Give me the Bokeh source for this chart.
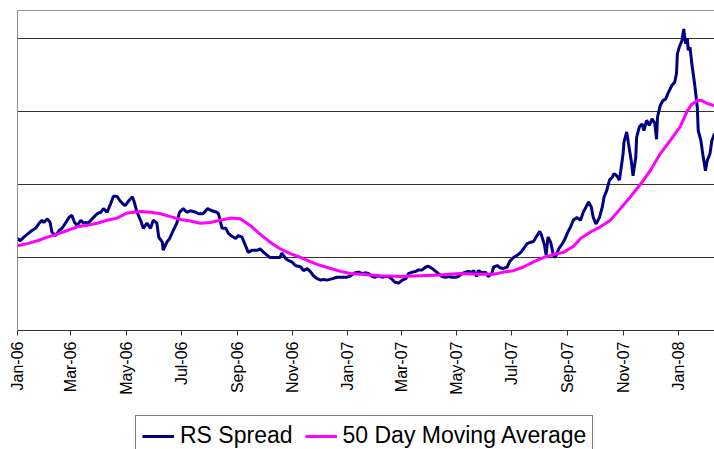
import math
import pandas as pd
from bokeh.plotting import figure
from bokeh.layouts import column
from bokeh.models import (Range1d, LinearAxis, FixedTicker, DatetimeTickFormatter,
                          Legend, LegendItem, ColumnDataSource)
from bokeh.embed import file_html
from bokeh.resources import INLINE

# ---------------- data ----------------
start_date = "2006-01-01"
# days after start_date
rs_day = [0, 3, 7, 12, 16, 20, 24, 27, 29, 33, 36, 38, 42, 46, 49, 53, 57, 60, 63, 66,
          70, 73, 75, 78, 81, 84, 88, 92, 95, 99, 103, 106, 110, 113, 116, 119, 123, 127, 129, 132,
          136, 139, 143, 147, 150, 154, 156, 160, 161, 165, 168, 172, 176, 179, 183, 187, 191, 197, 200, 205,
          210, 215, 220, 222, 226, 230, 233, 237, 241, 244, 248, 252, 255, 259, 265, 268, 272, 276, 279, 285,
          290, 292, 296, 299, 303, 307, 313, 316, 320, 324, 327, 331, 335, 338, 342, 348, 353, 359, 364, 368,
          373, 377, 381, 384, 388, 392, 395, 399, 403, 406, 410, 414, 417, 421, 425, 429, 432, 436, 440, 443,
          447, 451, 454, 458, 462, 465, 469, 473, 476, 480, 484, 487, 491, 495, 498, 502, 504, 507, 509, 513,
          517, 520, 524, 526, 530, 533, 537, 541, 544, 548, 552, 556, 559, 563, 567, 570, 573, 577, 579, 582,
          584, 586, 589, 592, 594, 598, 602, 605, 608, 611, 614, 618, 622, 625, 628, 631, 634, 636, 639, 643,
          646, 648, 651, 654, 657, 659, 662, 665, 667, 669, 670, 673, 675, 678, 680, 683, 684, 687, 690, 692,
          695, 698, 701, 704, 706, 707, 710, 713, 716, 719, 723, 726, 728, 729, 731, 734, 736, 738, 740, 741,
          743, 745, 748, 751, 752, 755, 757, 760, 762, 765, 767, 770]
rs_value = [1.26, 1.23, 1.28, 1.33, 1.37, 1.40, 1.47, 1.51, 1.48, 1.53, 1.48, 1.35, 1.30, 1.37, 1.40, 1.47, 1.55, 1.58, 1.48, 1.44,
            1.51, 1.47, 1.48, 1.47, 1.51, 1.55, 1.60, 1.62, 1.67, 1.62, 1.74, 1.84, 1.84, 1.78, 1.74, 1.71, 1.78, 1.83, 1.76, 1.62,
            1.51, 1.40, 1.47, 1.40, 1.51, 1.47, 1.28, 1.21, 1.10, 1.21, 1.26, 1.37, 1.47, 1.62, 1.67, 1.62, 1.64, 1.62, 1.60, 1.60,
            1.67, 1.64, 1.62, 1.60, 1.40, 1.40, 1.33, 1.29, 1.26, 1.30, 1.28, 1.16, 1.07, 1.10, 1.10, 1.12, 1.07, 1.03, 1.00, 1.00,
            1.00, 1.06, 0.99, 0.96, 0.94, 0.89, 0.87, 0.82, 0.85, 0.80, 0.75, 0.71, 0.69, 0.70, 0.69, 0.71, 0.73, 0.73, 0.73, 0.75,
            0.79, 0.80, 0.78, 0.79, 0.78, 0.74, 0.73, 0.75, 0.73, 0.74, 0.74, 0.70, 0.66, 0.65, 0.69, 0.71, 0.78, 0.80, 0.81, 0.83,
            0.83, 0.87, 0.88, 0.85, 0.81, 0.78, 0.74, 0.73, 0.74, 0.73, 0.73, 0.74, 0.78, 0.80, 0.81, 0.80, 0.82, 0.74, 0.82, 0.79,
            0.80, 0.74, 0.78, 0.87, 0.89, 0.86, 0.85, 0.87, 0.95, 1.00, 1.03, 1.07, 1.12, 1.19, 1.21, 1.22, 1.28, 1.36, 1.30, 1.18,
            1.03, 1.28, 1.21, 1.03, 1.00, 1.12, 1.19, 1.26, 1.35, 1.42, 1.51, 1.55, 1.51, 1.62, 1.69, 1.76, 1.69, 1.55, 1.46, 1.55,
            1.69, 1.83, 1.92, 2.06, 2.10, 2.15, 2.12, 2.06, 2.24, 2.42, 2.58, 2.72, 2.56, 2.33, 2.12, 2.37, 2.65, 2.79, 2.83, 2.74,
            2.88, 2.81, 2.90, 2.84, 2.62, 2.92, 3.08, 3.15, 3.17, 3.26, 3.36, 3.40, 3.52, 3.79, 3.88, 3.97, 4.13, 3.93, 4.00, 3.84,
            3.88, 3.65, 3.38, 3.06, 2.74, 2.60, 2.42, 2.19, 2.33, 2.42, 2.60, 2.70]

ma_day = [0, 11, 22, 33, 44, 55, 66, 77, 88, 99, 110, 121, 136, 147, 158, 169, 180, 191, 202, 213,
          224, 235, 246, 257, 268, 279, 290, 302, 313, 324, 335, 346, 357, 368, 379, 401, 423, 445, 467, 489,
          511, 526, 537, 548, 559, 570, 581, 592, 603, 614, 622, 633, 644, 655, 666, 677, 688, 699, 710, 721,
          732, 740, 745, 751, 756, 762, 770]
ma_value = [1.16, 1.19, 1.23, 1.28, 1.32, 1.37, 1.42, 1.44, 1.47, 1.51, 1.54, 1.61, 1.63, 1.62, 1.60, 1.56, 1.52, 1.50, 1.47, 1.48,
            1.51, 1.54, 1.53, 1.44, 1.32, 1.21, 1.12, 1.05, 1.00, 0.94, 0.89, 0.85, 0.81, 0.78, 0.77, 0.75, 0.74, 0.75, 0.76, 0.78,
            0.77, 0.77, 0.80, 0.82, 0.87, 0.94, 1.00, 1.04, 1.07, 1.15, 1.26, 1.35, 1.42, 1.51, 1.67, 1.83, 2.00, 2.19, 2.42, 2.60,
            2.79, 3.01, 3.10, 3.15, 3.15, 3.11, 3.08]

tick_months = ["2006-01-01", "2006-03-01", "2006-05-01", "2006-07-01", "2006-09-01", "2006-11-01",
               "2007-01-01", "2007-03-01", "2007-05-01", "2007-07-01", "2007-09-01", "2007-11-01",
               "2008-01-01"]
y_grid = [1, 2, 3, 4]
series_names = ["RS Spread", "50 Day Moving Average"]
series_colors = ["#000080", "#FF00FF"]
x_end_day = 770
y_top = 4.384

# ---------------- build ----------------
base = pd.Timestamp(start_date)
rs_src = ColumnDataSource(dict(date=base + pd.to_timedelta(rs_day, unit="D"), value=rs_value))
ma_src = ColumnDataSource(dict(date=base + pd.to_timedelta(ma_day, unit="D"), value=ma_value))
tick_ms = [pd.Timestamp(t).value / 1e6 for t in tick_months]

FONT = "Liberation Sans"

p = figure(width=714, height=410, x_axis_type="datetime", output_backend="svg",
           toolbar_location=None,
           x_range=Range1d(base, base + pd.Timedelta(days=x_end_day)),
           y_range=Range1d(0, y_top),
           min_border_left=17, min_border_right=0, min_border_top=10, min_border_bottom=80)
p.outline_line_color = None
p.background_fill_color = "white"
p.border_fill_color = "white"

# x axis
xa = p.xaxis[0]
xa.ticker = FixedTicker(ticks=tick_ms)
fmt = "%b-%y"
xa.formatter = DatetimeTickFormatter(milliseconds=fmt, seconds=fmt, minsec=fmt, minutes=fmt,
                                     hourmin=fmt, hours=fmt, days=fmt, months=fmt, years=fmt)
xa.major_label_orientation = math.pi / 2
xa.major_label_text_font = FONT
xa.major_label_text_font_size = "16px"
xa.major_label_text_color = "black"
xa.major_label_standoff = 6
xa.major_tick_out = 5
xa.major_tick_in = 0
xa.minor_tick_out = 0
xa.minor_tick_in = 0
xa.axis_line_color = "#333333"
xa.major_tick_line_color = "#333333"
p.xgrid.visible = False

# value grid (no value labels in the chart)
p.yaxis[0].visible = False
p.ygrid.ticker = FixedTicker(ticks=y_grid)
p.ygrid.grid_line_color = "#333333"
p.ygrid.grid_line_width = 1

# plot-area border lines, left and top
left_line = LinearAxis(ticker=FixedTicker(ticks=[]), major_tick_out=0, minor_tick_out=0,
                       major_label_standoff=0, axis_line_color="#8c8c8c")
p.add_layout(left_line, "left")
top_line = LinearAxis(ticker=FixedTicker(ticks=[]), major_tick_out=0, minor_tick_out=0,
                      major_label_standoff=0, axis_line_color="#9a9a9a")
p.add_layout(top_line, "above")

p.line("date", "value", source=rs_src, line_color=series_colors[0], line_width=3)
p.line("date", "value", source=ma_src, line_color=series_colors[1], line_width=3)

# ---------------- legend strip (same series, viewed outside their range) ----------------
p2 = figure(width=714, height=39, output_backend="svg", toolbar_location=None,
            x_axis_type="datetime",
            x_range=Range1d(base - pd.Timedelta(days=400), base - pd.Timedelta(days=300)),
            y_range=Range1d(0, y_top),
            x_axis_location=None, y_axis_location=None,
            min_border_left=0, min_border_right=0, min_border_top=0, min_border_bottom=0)
p2.outline_line_color = None
p2.xgrid.visible = False
p2.ygrid.visible = False
g1 = p2.line("date", "value", source=rs_src, line_color=series_colors[0], line_width=3)
g2 = p2.line("date", "value", source=ma_src, line_color=series_colors[1], line_width=3)

legend = Legend(items=[LegendItem(label=series_names[0], renderers=[g1]),
                       LegendItem(label=series_names[1], renderers=[g2])],
                orientation="horizontal", location=(118, -7), margin=0,
                padding=6, spacing=12, glyph_width=32, glyph_height=20,
                label_standoff=6, label_text_font=FONT, label_text_font_size="23px",
                label_text_color="black", border_line_color="black", border_line_width=1,
                background_fill_color="white", background_fill_alpha=1.0)
p2.add_layout(legend, "center")

layout = column(p, p2, spacing=0)
open("out.html", "w").write(file_html(layout, INLINE))
